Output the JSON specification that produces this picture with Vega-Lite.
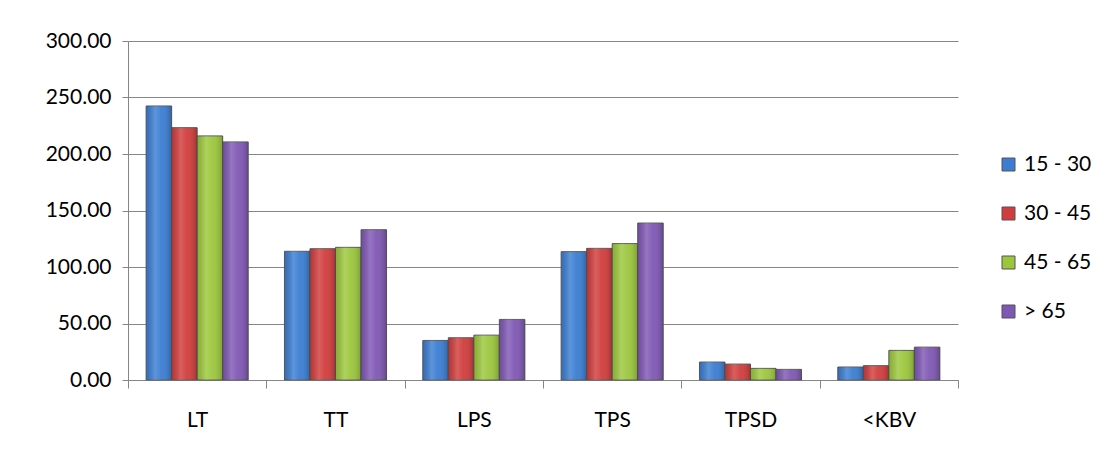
{
  "$schema": "https://vega.github.io/schema/vega-lite/v6.json",
  "width": 830,
  "height": 339,
  "autosize": {"type": "none"},
  "padding": {"left": 128, "top": 41, "right": 157, "bottom": 81},
  "background": "white",
  "data": {
    "values": [
      {"cat": "LT", "age": "15 - 30", "value": 242.5},
      {"cat": "LT", "age": "30 - 45", "value": 223.3},
      {"cat": "LT", "age": "45 - 65", "value": 216.0},
      {"cat": "LT", "age": "> 65", "value": 210.7},
      {"cat": "TT", "age": "15 - 30", "value": 113.9},
      {"cat": "TT", "age": "30 - 45", "value": 116.2},
      {"cat": "TT", "age": "45 - 65", "value": 117.4},
      {"cat": "TT", "age": "> 65", "value": 133.0},
      {"cat": "LPS", "age": "15 - 30", "value": 35.0},
      {"cat": "LPS", "age": "30 - 45", "value": 37.4},
      {"cat": "LPS", "age": "45 - 65", "value": 39.7},
      {"cat": "LPS", "age": "> 65", "value": 53.6},
      {"cat": "TPS", "age": "15 - 30", "value": 113.6},
      {"cat": "TPS", "age": "30 - 45", "value": 116.5},
      {"cat": "TPS", "age": "45 - 65", "value": 120.7},
      {"cat": "TPS", "age": "> 65", "value": 138.9},
      {"cat": "TPSD", "age": "15 - 30", "value": 15.9},
      {"cat": "TPSD", "age": "30 - 45", "value": 14.1},
      {"cat": "TPSD", "age": "45 - 65", "value": 10.3},
      {"cat": "TPSD", "age": "> 65", "value": 9.4},
      {"cat": "<KBV", "age": "15 - 30", "value": 11.5},
      {"cat": "<KBV", "age": "30 - 45", "value": 12.7},
      {"cat": "<KBV", "age": "45 - 65", "value": 26.2},
      {"cat": "<KBV", "age": "> 65", "value": 29.1}
    ]
  },
  "encoding": {
    "x": {
      "field": "cat",
      "type": "nominal",
      "sort": ["LT", "TT", "LPS", "TPS", "TPSD", "<KBV"],
      "scale": {"paddingInner": 0, "paddingOuter": 0},
      "title": null,
      "axis": {
        "labelAngle": 0,
        "tickBand": "extent",
        "tickSize": 8,
        "tickColor": "#868686",
        "domainColor": "#868686",
        "labelPadding": 21,
        "labelFont": "Lato",
        "labelFontSize": 21,
        "labelColor": "#000000",
        "grid": false
      }
    },
    "xOffset": {
      "field": "age",
      "type": "nominal",
      "sort": ["15 - 30", "30 - 45", "45 - 65", "> 65"],
      "scale": {"paddingInner": 0, "paddingOuter": 0.71}
    },
    "y": {
      "field": "value",
      "type": "quantitative",
      "scale": {"domain": [0, 300], "nice": false},
      "title": null,
      "axis": {
        "values": [0, 50, 100, 150, 200, 250, 300],
        "format": ".2f",
        "tickSize": 6,
        "tickColor": "#868686",
        "domainColor": "#868686",
        "gridColor": "#868686",
        "grid": true,
        "labelPadding": 11,
        "labelFont": "Lato",
        "labelFontSize": 21,
        "labelColor": "#000000"
      }
    }
  },
  "layer": [
    {
      "mark": {"type": "bar", "stroke": "#5a5a5a", "strokeWidth": 1},
      "encoding": {
        "color": {
          "field": "age",
          "type": "nominal",
          "sort": ["15 - 30", "30 - 45", "45 - 65", "> 65"],
          "scale": {
            "domain": ["15 - 30", "30 - 45", "45 - 65", "> 65"],
            "range": ["#3a7dd2", "#d13c3c", "#9cc73c", "#7f57b4"]
          },
          "legend": {
            "title": null,
            "orient": "none",
            "legendX": 870,
            "legendY": 113,
            "symbolType": "square",
            "symbolSize": 169,
            "symbolStrokeColor": "#555555",
            "symbolStrokeWidth": 1,
            "symbolOpacity": 1,
            "labelFont": "Lato",
            "labelFontSize": 21,
            "labelColor": "#000000",
            "labelOffset": 5,
            "rowPadding": 27
          }
        }
      }
    },
    {
      "mark": {
        "type": "bar",
        "strokeWidth": 0,
        "fill": {
          "gradient": "linear",
          "x1": 0, "y1": 0, "x2": 1, "y2": 0,
          "stops": [
            {"offset": 0, "color": "rgba(0,0,0,0.12)"},
            {"offset": 0.35, "color": "rgba(255,255,255,0.18)"},
            {"offset": 0.6, "color": "rgba(255,255,255,0.05)"},
            {"offset": 1, "color": "rgba(0,0,0,0.2)"}
          ]
        }
      }
    }
  ],
  "config": {"view": {"stroke": null}}
}
